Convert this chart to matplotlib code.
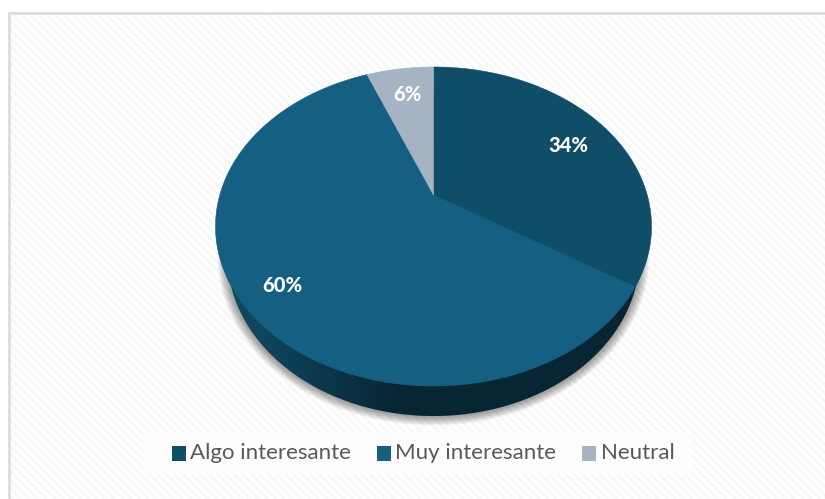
import matplotlib
matplotlib.use("Agg")
import matplotlib.pyplot as plt
from matplotlib.patches import Polygon, Rectangle
import numpy as np

# chart data
categories = ["Algo interesante", "Muy interesante", "Neutral"]
values = [34, 60, 6]
colors = ["#0f4d69", "#156082", "#a6b3c3"]

# pie geometry in pixels, the pie is tilted so the centre sits above the ellipse middle
cx, cy = 433.5, 195
a, b, k = 213.7, 153.3, 0.1975
side_drop = 30
side_scale = 0.945


def rim(theta):
    # theta is clockwise from the top, in radians
    w = 1 + k * np.cos(theta)
    return cx + a * np.sin(theta) / w, cy - b * np.cos(theta) / w


fig = plt.figure(figsize=(8.25, 4.99), dpi=100)
ax = fig.add_axes([0, 0, 1, 1])
ax.set_xlim(0, 825)
ax.set_ylim(499, 0)
ax.axis("off")

# striped background, the frame only shows on the top and left
yy, xx = np.mgrid[0:487, 0:817]
stripes = 1.0 - 0.03 * (np.sin((xx - yy) * 2 * np.pi / 8.5) > 0.0)
ax.imshow(stripes, cmap="gray", vmin=0, vmax=1, extent=(8, 825, 499, 12), zorder=0, aspect="auto")
ax.plot([9, 9], [499, 13], color="#d9d9d9", lw=1.8, zorder=1)
ax.plot([9, 825], [13, 13], color="#d9d9d9", lw=1.8, zorder=1)

t = np.linspace(0, 2 * np.pi, 400)
rx, ry = rim(t)
mid_y = (ry.min() + ry.max()) / 2
low_x = cx + (rx - cx) * side_scale
low_y = mid_y + (ry - mid_y) + side_drop

# soft shadow under the pie
for grow in np.linspace(10, 0, 11):
    sx = cx + (rx - cx) * (side_scale + grow / 220)
    sy = mid_y + (ry - mid_y) * (1 + grow / 170) + side_drop
    ax.add_patch(Polygon(np.column_stack([sx, sy]), fc="black", ec="none", alpha=0.045, zorder=2))

# side wall with a gradient, lighter on the left
side = Polygon(np.column_stack([low_x, low_y]), fc="none", ec="none", zorder=3)
ax.add_patch(side)
grad = np.interp(np.linspace(215, 652, 300), [215, 260, 400, 652], [0.0, 0.12, 1.0, 1.0])
c0, c1 = np.array([16, 74, 99]) / 255, np.array([8, 37, 52]) / 255
grad_img = (c0[None, None, :] + (c1 - c0)[None, None, :] * grad[None, :, None])
im = ax.imshow(grad_img, extent=(215, 652, 420, 150), zorder=3, aspect="auto")
im.set_clip_path(side)
ax.set_xlim(0, 825)
ax.set_ylim(499, 0)

# top face, one wedge for each value
start = 0.0
for val, col in zip(values, colors):
    end = start + val / sum(values) * 2 * np.pi
    th = np.linspace(start, end, 200)
    wx, wy = rim(th)
    pts = np.column_stack([np.r_[cx, wx], np.r_[cy, wy]])
    ax.add_patch(Polygon(pts, fc=col, ec=col, lw=0.4, zorder=4))
    start = end

# percent labels
label_pos = [(568, 145), (282, 286), (407, 94)]
for val, pos in zip(values, label_pos):
    ax.text(pos[0], pos[1], f"{val}%", color="white", fontsize=14.5, fontweight="black",
            family="Lato", ha="center", va="center", zorder=5)

# legend
ax.add_patch(Rectangle((143, 432), 549, 42, fc="white", ec="none", alpha=0.75, zorder=5))
legend_sq = [172, 377, 582]
legend_txt = [190, 395, 601]
for col, name, sx, tx in zip(colors, categories, legend_sq, legend_txt):
    ax.add_patch(Rectangle((sx, 446), 14, 15, fc=col, ec="none", zorder=6))
    ax.text(tx, 453, name, color="#595959", fontsize=16, family="Lato", ha="left", va="center", zorder=6)

fig.savefig("out.png", dpi=100)
